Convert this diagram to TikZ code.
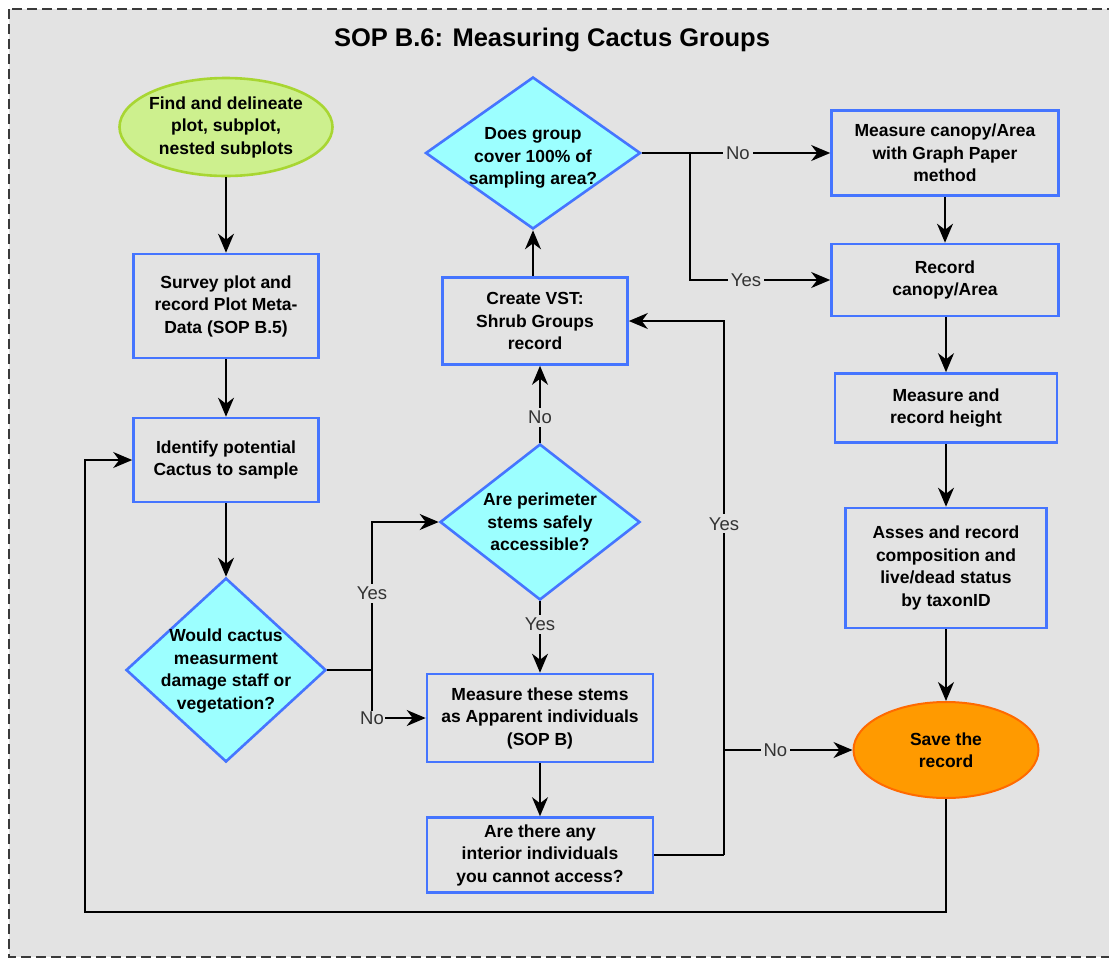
\documentclass[tikz,border=0pt]{standalone}
\usepackage{fontspec}
\setmainfont{Liberation Sans}
\usetikzlibrary{shapes.geometric,arrows.meta}
\definecolor{bgC}{HTML}{E3E3E3}
\definecolor{blueC}{HTML}{4575FF}
\definecolor{cyanC}{HTML}{9CFFFF}
\definecolor{greenF}{HTML}{CDF08E}
\definecolor{greenD}{HTML}{A8D632}
\definecolor{orangeF}{HTML}{FF9A00}
\definecolor{orangeD}{HTML}{FF6A00}
\definecolor{lblC}{HTML}{333333}
\definecolor{frameC}{HTML}{3A3A3A}
\tikzset{
  txt/.style={align=center,font=\fontsize{17.5}{22.5}\selectfont\bfseries,text=black},
  boxn/.style={draw=blueC,line width=2.6pt,fill=bgC,inner sep=0pt,txt},
  dia/.style={diamond,draw=blueC,line width=2.6pt,fill=cyanC,inner sep=0pt},
  arr/.style={draw=black,line width=1.6pt,-{Stealth[length=19pt,width=16pt,inset=6pt]}},
  ln/.style={draw=black,line width=1.6pt},
  lbl/.style={fill=bgC,inner sep=3pt,text=lblC,font=\fontsize{18.5}{20}\selectfont}
}
\begin{document}
\begin{tikzpicture}[x=1pt,y=-1pt]
\useasboundingbox (0,0) rectangle (1109,959);
\fill[white] (0,0) rectangle (1109,959);
\draw[frameC,fill=bgC,line width=2pt,dash pattern=on 10pt off 5pt] (9,9) rectangle (1130,957);
\node[font=\fontsize{25.5}{28}\selectfont\bfseries] (title) at (552,40) {SOP B.6: Measuring Cactus Groups};

% left column
\node[ellipse,draw=greenD,line width=2.6pt,fill=greenF,inner sep=0pt,minimum width=213pt,minimum height=98pt] (start) at (226,127) {};
\node[txt] (startt) at (226,127) {Find and delineate\\plot, subplot,\\nested subplots};
\node[boxn,minimum width=185pt,minimum height=104pt] (survey) at (226,306) {Survey plot and\\record Plot Meta-\\Data (SOP B.5)};
\node[boxn,minimum width=185pt,minimum height=84pt] (ident) at (226,460) {Identify potential\\Cactus to sample};
\node[dia,minimum width=200pt,minimum height=184pt] (d1) at (226,670) {};
\node[txt] (d1t) at (226,671) {Would cactus\\measurment\\damage staff or\\vegetation?};

% middle column
\node[dia,minimum width=215pt,minimum height=152pt] (d3) at (533,153) {};
\node[txt] (d3t) at (533,158) {Does group\\cover 100\% of\\sampling area?};
\node[boxn,minimum width=185pt,minimum height=87pt] (vst) at (535,321) {Create VST:\\Shrub Groups\\record};
\node[dia,minimum width=200pt,minimum height=156pt] (d2) at (540,522) {};
\node[txt] (d2t) at (540,522) {Are perimeter\\stems safely\\accessible?};
\node[boxn,minimum width=226pt,minimum height=88pt] (meas) at (540,718) {Measure these stems\\as Apparent individuals\\(SOP B)};
\node[boxn,minimum width=226pt,minimum height=75pt] (inter) at (540,855) {Are there any\\interior individuals\\you cannot access?};

% right column
\node[boxn,minimum width=227pt,minimum height=85pt] (mcan) at (945,153) {Measure canopy/Area\\with Graph Paper\\method};
\node[boxn,minimum width=227pt,minimum height=72pt] (rcan) at (945,280) {Record\\canopy/Area};
\node[boxn,minimum width=222pt,minimum height=69pt] (mh) at (946,408) {Measure and\\record height};
\node[boxn,minimum width=201pt,minimum height=120pt] (asses) at (946,568) {Asses and record\\composition and\\live/dead status\\by taxonID};
\node[ellipse,draw=orangeD,line width=2pt,fill=orangeF,inner sep=0pt,minimum width=185pt,minimum height=96pt,txt] (save) at (946,750) {Save the\\record};

% junctions
\coordinate (j1) at (372,670);
\coordinate (j2) at (690,153);
\coordinate (j3) at (724,855);
\coordinate (j4) at (724,750);
\coordinate (lp) at (85,912);

% connectors
\draw[arr] (start.south) -- (survey.north);
\draw[arr] (survey.south) -- (ident.north);
\draw[arr] (ident.south) -- (d1.north);
\draw[ln] (d1.east) -- (j1);
\draw[arr] (j1) |- node[lbl,pos=0.26]{Yes} (d2.west);
\draw[arr] (j1) |- node[lbl,pos=0.5,inner sep=1pt]{No} (meas.west);
\draw[arr] (d2.south) -- node[lbl,pos=0.32]{Yes} (meas.north);
\draw[arr] (d2.north) -- node[lbl,pos=0.33]{No} (d2.north |- vst.south);
\draw[arr] (vst.north -| d3.south) -- (d3.south);
\draw[arr] (d3.east) -- node[lbl,pos=0.51]{No} (mcan.west);
\draw[arr] (j2) |- node[lbl,pos=0.7]{Yes} (rcan.west);
\draw[arr] (mcan.south) -- (rcan.north);
\draw[arr] (rcan.south -| mh.north) -- (mh.north);
\draw[arr] (mh.south) -- (asses.north);
\draw[arr] (asses.south) -- (save.north);
\draw[arr] (meas.south) -- (inter.north);
\draw[ln] (inter.east) -- (j3);
\draw[arr] (j3) |- node[lbl,pos=0.31]{Yes} (vst.east);
\draw[arr] (j4) -- node[lbl,pos=0.4]{No} (save.west);
\draw[arr] (save.south) |- (lp) |- (ident.west);
\end{tikzpicture}
\end{document}
